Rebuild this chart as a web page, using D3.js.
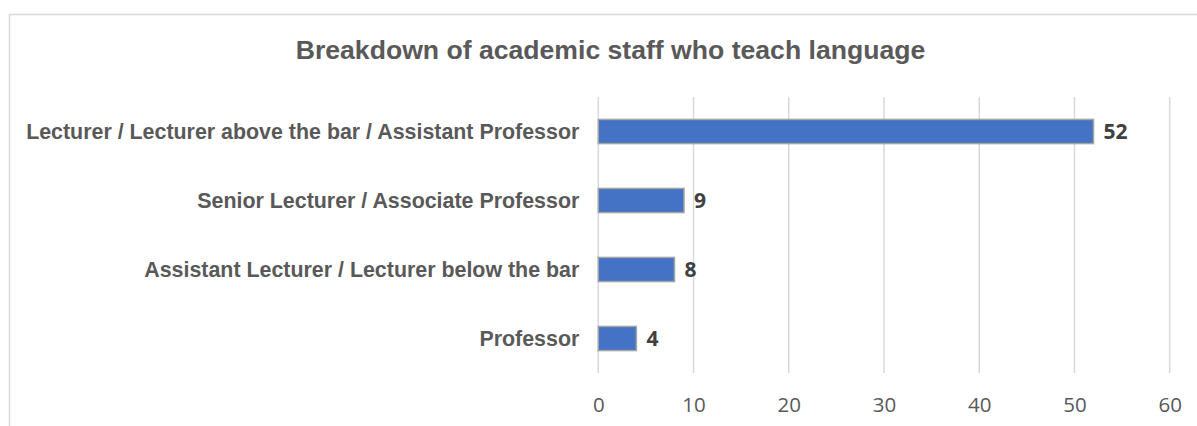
<!DOCTYPE html>
<html>
<head>
<meta charset="utf-8">
<script src="https://cdn.jsdelivr.net/npm/d3@7"></script>
<style>
  html, body { margin: 0; padding: 0; background: #fff; }
  svg { display: block; }
</style>
</head>
<body>
<svg id="chart" width="1197" height="426"></svg>
<script>
// Staff categories (top to bottom) and head counts
const categories = [
  "Lecturer / Lecturer above the bar / Assistant Professor",
  "Senior Lecturer / Associate Professor",
  "Assistant Lecturer / Lecturer below the bar",
  "Professor"
];
const staffCounts = [52, 9, 8, 4];
const xTicks = [0, 10, 20, 30, 40, 50, 60];
const chartTitle = "Breakdown of academic staff who teach language";

const W = 1197, H = 426;
const margin = { left: 598.3, right: 27.3, top: 97, bottom: 53 };

const svg = d3.select("#chart");

// chart area frame
svg.append("rect")
  .attr("x", 9.5).attr("y", 14.5)
  .attr("width", W + 20).attr("height", H + 20)
  .attr("fill", "#fff")
  .attr("stroke", "#d9d9d9")
  .attr("stroke-width", 1.5);

const x = d3.scaleLinear()
  .domain([0, 60])
  .range([margin.left, W - margin.right]);

const y = d3.scaleBand()
  .domain(categories)
  .range([margin.top, H - margin.bottom])
  .paddingInner(0.65)
  .paddingOuter(0.325);

// title
svg.append("text")
  .attr("x", 610.5).attr("y", 58.5)
  .attr("text-anchor", "middle")
  .attr("font-family", "Liberation Sans, Arial, sans-serif")
  .attr("font-weight", "bold")
  .attr("font-size", 26.6)
  .attr("fill", "#595959")
  .text(chartTitle);

// vertical gridlines
svg.append("g")
  .selectAll("line")
  .data(xTicks)
  .join("line")
  .attr("x1", d => x(d)).attr("x2", d => x(d))
  .attr("y1", margin.top).attr("y2", H - margin.bottom)
  .attr("stroke", "#d9d9d9")
  .attr("stroke-width", 1.5);

// x axis tick labels
const xAxis = d3.axisBottom(x).tickValues(xTicks).tickSize(0).tickPadding(0);
const gx = svg.append("g")
  .attr("transform", `translate(0, ${H - margin.bottom})`)
  .call(xAxis);
gx.select(".domain").remove();
gx.selectAll("text")
  .attr("dy", null)
  .attr("y", 38.5)
  .attr("font-family", "Open Sans, sans-serif")
  .attr("font-size", 20.5)
  .attr("fill", "#595959");

// category labels
const yAxis = d3.axisLeft(y).tickSize(0).tickPadding(0);
const gy = svg.append("g")
  .attr("transform", `translate(${margin.left - 19}, 0)`)
  .call(yAxis);
gy.select(".domain").remove();
gy.selectAll("text")
  .attr("dy", "0.35em")
  .attr("font-family", "Liberation Sans, Arial, sans-serif")
  .attr("font-weight", "bold")
  .attr("font-size", 21.4)
  .attr("fill", "#595959");

const rows = categories.map((c, i) => ({ c, v: staffCounts[i] }));

// bars
svg.append("g")
  .selectAll("rect")
  .data(rows)
  .join("rect")
  .attr("x", x(0))
  .attr("y", d => y(d.c))
  .attr("width", d => x(d.v) - x(0))
  .attr("height", y.bandwidth())
  .attr("fill", "#4472c4")
  .attr("stroke", "#a5a5a5")
  .attr("stroke-width", 1.5);

// value labels
svg.append("g")
  .selectAll("text")
  .data(rows)
  .join("text")
  .attr("x", d => x(d.v) + 10)
  .attr("y", d => y(d.c) + y.bandwidth() / 2)
  .attr("dy", "0.36em")
  .attr("font-family", "Open Sans, sans-serif")
  .attr("font-weight", "bold")
  .attr("font-size", 21)
  .attr("fill", "#404040")
  .text(d => d.v);
</script>
</body>
</html>
